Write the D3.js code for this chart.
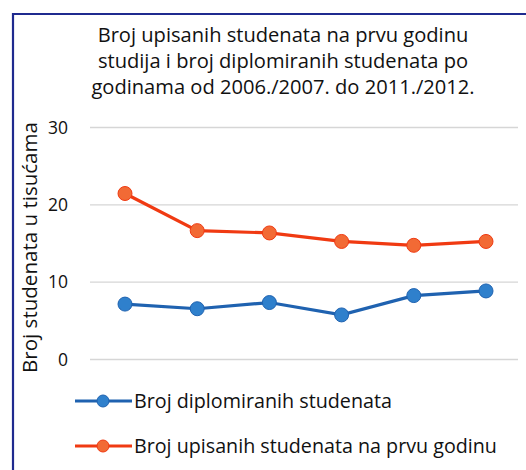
<!DOCTYPE html>
<html><head><meta charset="utf-8">
<script src="https://cdn.jsdelivr.net/npm/d3@7"></script>
<style>body{margin:0;background:#fff}svg{display:block}</style>
</head><body>
<script>
const categories = ["2006./2007.","2007./2008.","2008./2009.","2009./2010.","2010./2011.","2011./2012."];
const diplomirani = [7.1, 6.5, 7.3, 5.7, 8.2, 8.8];
const upisani = [21.4, 16.6, 16.3, 15.2, 14.7, 15.2];
const yTicks = [0, 10, 20, 30];
const titleLines = ["Broj upisanih studenata na prvu godinu","studija i broj diplomiranih studenata po","godinama od 2006./2007. do 2011./2012."];
const seriesNames = ["Broj diplomiranih studenata","Broj upisanih studenata na prvu godinu"];
const yTitle = "Broj studenata u tisućama";

const W=526,H=470;
const font = "'Open Sans', sans-serif";
const svg = d3.select("body").append("svg").attr("width",W).attr("height",H);
svg.append("rect").attr("width",W).attr("height",H).attr("fill","#fff");
// frame
svg.append("path").attr("d","M530,14 H13 V472").attr("fill","none").attr("stroke","#1f2a8f").attr("stroke-width",2.2);

const x = d3.scalePoint().domain(categories).range([125,486]);
const y = d3.scaleLinear().domain([0,30]).range([359,127]);

function fitText(sel, target){
  sel.each(function(){
    const w = this.getComputedTextLength();
    if (w>0) d3.select(this).attr("font-size", +d3.select(this).attr("font-size")*target/w);
  });
}

// title
const tt = svg.append("g").selectAll("text").data(titleLines).join("text")
  .attr("x",283).attr("y",(d,i)=>42+i*26).attr("text-anchor","middle")
  .attr("font-family",font).attr("font-size",19).attr("fill","#111").text(d=>d);
fitText(tt.filter((d,i)=>i===0), 371);
tt.attr("font-size", tt.filter((d,i)=>i===0).attr("font-size"));

// grid
const grid = svg.append("g").attr("transform","translate(90,0)")
  .call(d3.axisLeft(y).tickValues(yTicks).tickSize(-428).tickFormat(""));
grid.select(".domain").remove();
grid.selectAll("line").attr("stroke","#d6d6d6").attr("stroke-width",1.3);

const ya = svg.append("g").attr("transform","translate(68,0)")
  .call(d3.axisLeft(y).tickValues(yTicks).tickSize(0).tickPadding(0));
ya.select(".domain").remove();
ya.selectAll("text").attr("font-family",font).attr("font-size",17.5).attr("fill","#111").attr("dy","0.35em");

const yt = svg.append("text").attr("transform","translate(37,247.5) rotate(-90)").attr("text-anchor","middle")
  .attr("font-family",font).attr("font-size",18).attr("fill","#111").text(yTitle);
fitText(yt, 251);

const series = [
  {name:seriesNames[0], values:diplomirani, line:"#1f62b0", fill:"#2f80cc", w:258},
  {name:seriesNames[1], values:upisani, line:"#f03a12", fill:"#f26a35", w:363}
];
const lineGen = d3.line().x((d,i)=>x(categories[i])).y(d=>y(d));
series.forEach(s=>{
  svg.append("path").datum(s.values).attr("d",lineGen).attr("fill","none")
    .attr("stroke",s.line).attr("stroke-width",3.2);
  svg.append("g").selectAll("circle").data(s.values).join("circle")
    .attr("cx",(d,i)=>x(categories[i])).attr("cy",d=>y(d)).attr("r",7)
    .attr("fill",s.fill).attr("stroke",s.line).attr("stroke-width",1);
});

// legend
series.forEach((s,i)=>{
  const ly = 401 + i*45;
  svg.append("line").attr("x1",75).attr("x2",132).attr("y1",ly).attr("y2",ly)
    .attr("stroke",s.line).attr("stroke-width",3.2);
  svg.append("circle").attr("cx",103).attr("cy",ly).attr("r",6).attr("fill",s.fill).attr("stroke",s.line);
  const t = svg.append("text").attr("x",134).attr("y",ly).attr("dy","0.35em")
    .attr("font-family",font).attr("font-size",19).attr("fill","#111").text(s.name);
  fitText(t, s.w);
});
</script>
</body></html>
